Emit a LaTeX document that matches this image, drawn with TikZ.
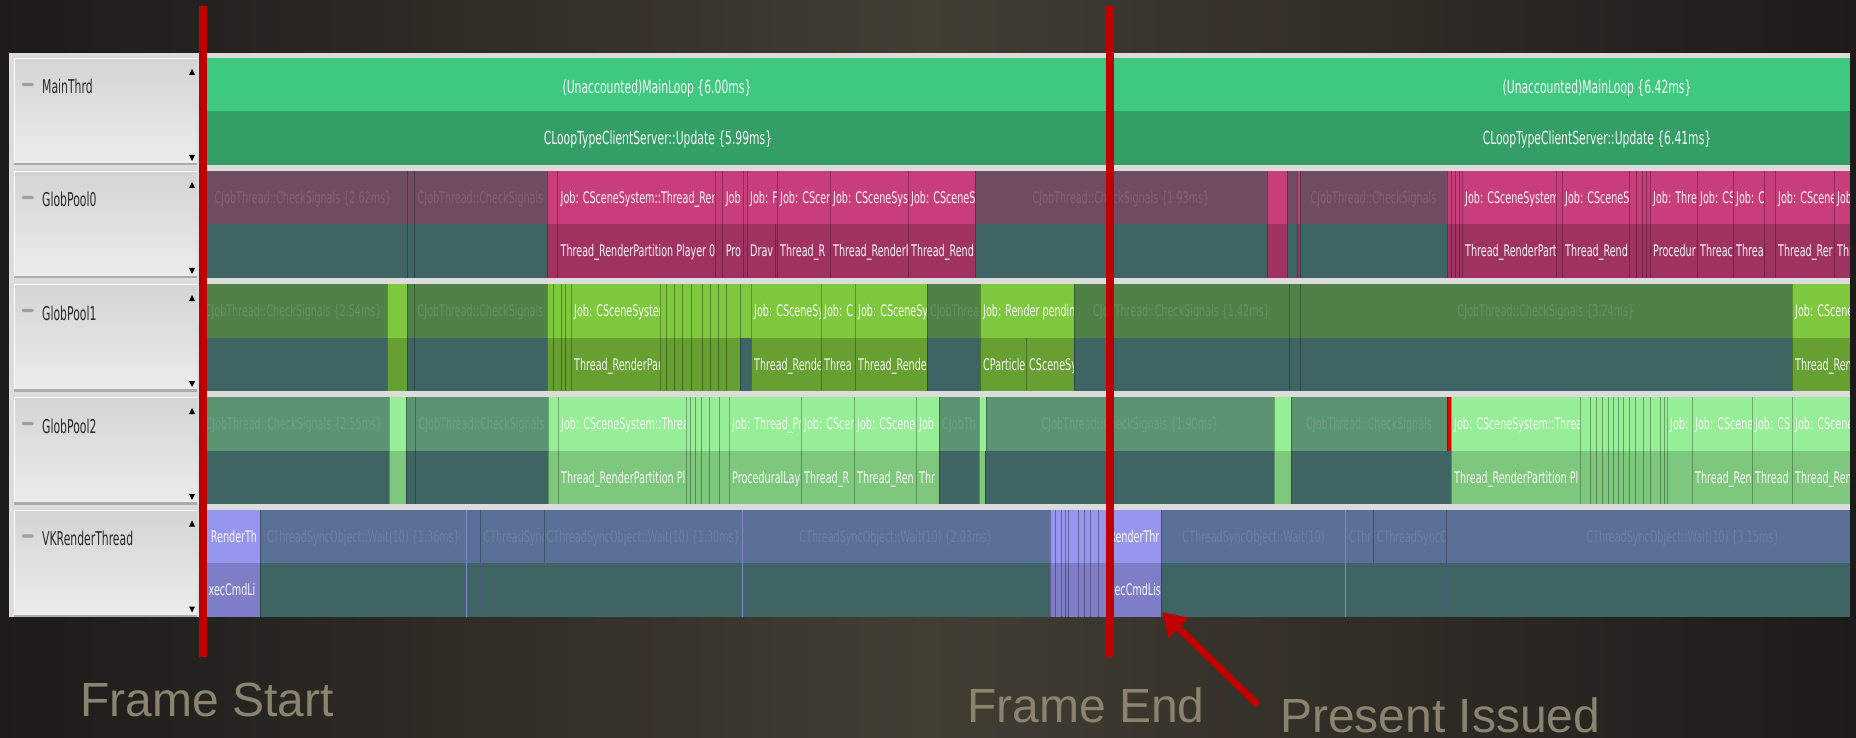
\documentclass[tikz,border=0pt]{standalone}
\usepackage{fontspec}
\usetikzlibrary{arrows.meta}
\newfontfamily\pf{DejaVu Sans}[FakeStretch=0.6]
\newfontfamily\hf{DejaVu Sans}[FakeStretch=0.57]
\newfontfamily\af{Liberation Sans}
\definecolor{bgE}{RGB}{28,27,25}
\definecolor{bgM}{RGB}{67,62,52}
\definecolor{panel}{RGB}{220,220,220}
\definecolor{hdT}{RGB}{212,212,212}
\definecolor{hdB}{RGB}{236,236,236}
\definecolor{hdE}{RGB}{172,172,172}
\definecolor{mainA}{RGB}{63,200,128}
\definecolor{mainB}{RGB}{51,158,102}
\definecolor{tl}{RGB}{62,100,99}
\definecolor{pD}{RGB}{112,76,98}
\definecolor{pA}{RGB}{199,62,122}
\definecolor{pB}{RGB}{160,50,98}
\definecolor{gD}{RGB}{80,130,72}
\definecolor{gA}{RGB}{126,200,62}
\definecolor{gB}{RGB}{102,160,48}
\definecolor{hD}{RGB}{90,148,112}
\definecolor{hA}{RGB}{150,238,150}
\definecolor{hB}{RGB}{126,200,126}
\definecolor{hR}{RGB}{230,0,0}
\definecolor{vD}{RGB}{90,112,150}
\definecolor{vA}{RGB}{150,150,238}
\definecolor{vB}{RGB}{126,126,200}
\definecolor{tw}{RGB}{246,246,246}
\colorlet{tpD}{pD!88!white}
\colorlet{tgD}{gD!88!white}
\colorlet{thD}{hD!89!white}
\colorlet{tvD}{vD!89!white}
\definecolor{redl}{RGB}{192,0,0}
\definecolor{captioncol}{RGB}{139,131,109}
\definecolor{hdtext}{RGB}{40,40,40}
\tikzset{
  lbl/.style={font=\pf\fontsize{16}{18}\selectfont, inner sep=0pt},
  mlbl/.style={font=\pf\fontsize{18}{20}\selectfont, inner sep=0pt, text=tw, anchor=base},
  hlbl/.style={font=\hf\fontsize{19}{21}\selectfont, inner sep=0pt, text=hdtext, anchor=base west},
  captxt/.style={font=\af\fontsize{48}{52}\selectfont, inner sep=0pt, text=captioncol, anchor=base west},
  marker/.style={draw=redl, line width=7.5pt},
  arrowred/.style={draw=redl, line width=7pt, -{Triangle[width=27pt,length=23pt]}},
}
% #1 top y, #2 x1, #3 x2, #4 fill, #5 text colour, #6 mode (c, l or centre x), #7 label
\newcommand\blk[7]{%
  \fill[#4] (#2,#1) rectangle (#3,#1+53.5);
  \draw[#4!72!black, line width=0.8pt] (#2,#1) -- (#2,#1+53.5);
  \def\tmpm{#6}\def\modec{c}\def\model{l}%
  \begin{scope}
    \clip (#2+0.5,#1) rectangle (#3-1,#1+53.5);
    \ifx\tmpm\modec
      \node[lbl,text=#5,anchor=base] at ({(#2+#3)/2},#1+32.5) {#7};
    \else\ifx\tmpm\model
      \node[lbl,text=#5,anchor=base west] at (#2+3,#1+32.5) {#7};
    \else
      \node[lbl,text=#5,anchor=base] at (#6,#1+32.5) {#7};
    \fi\fi
  \end{scope}}
\newcommand\lns[2]{\foreach \xx in {#2}{\draw[black, opacity=0.33, line width=0.9pt] (\xx,#1) -- (\xx,#1+53.5);}}
\begin{document}
\begin{tikzpicture}[x=1pt,y=-1pt]
\useasboundingbox (0,0) rectangle (1856,738);
\shade[left color=bgE, right color=bgE, middle color=bgM] (0,0) rectangle (1856,738);
\fill[panel] (9,53) rectangle (1850,616.5);

% ---- track headers
\foreach \T/\nm [count=\i] in {58/MainThrd,171/GlobPool0,284/GlobPool1,397/GlobPool2,509.5/VKRenderThread}{
  \shade[top color=hdT, bottom color=hdB] (14,\T) rectangle (197,\T+105);
  \fill[hdE] (14,\T+105) rectangle (197,\T+107.5);
  \draw[white, line width=1.2pt] (14.6,\T+105) -- (14.6,\T+0.6) -- (197,\T+0.6);
  \fill[gray!75, rounded corners=1pt] (22,\T+24.8) rectangle (33.5,\T+28.2);
  \node[hlbl] (h\i) at (42,\T+36) {\nm};
  \fill[black] (189,\T+17) -- (195,\T+17) -- (192,\T+11) -- cycle;
  \fill[black] (189,\T+97) -- (195,\T+97) -- (192,\T+103) -- cycle;
}

% ---- MainThrd
\fill[mainA] (199,58) rectangle (1850,111.5);
\fill[mainB] (199,111.5) rectangle (1850,165);
\draw[mainA!72!black, line width=0.8pt] (1109,58) -- (1109,165);
\node[mlbl] (ml1) at (657,93.5) {(Unaccounted)MainLoop \{6.00ms\}};
\node[mlbl] (ml2) at (1597,93.5) {(Unaccounted)MainLoop \{6.42ms\}};
\node[mlbl] (up1) at (658,145) {CLoopTypeClientServer::Update \{5.99ms\}};
\node[mlbl] (up2) at (1597,145) {CLoopTypeClientServer::Update \{6.41ms\}};

% ---- GlobPool0
\blk{171}{199}{407}{pD}{tpD}{c}{CJobThread::CheckSignals \{2.62ms\}}
\blk{171}{407}{414}{pD}{tpD}{c}{}
\blk{171}{414}{547}{pD}{tpD}{c}{CJobThread::CheckSignals}
\blk{171}{547}{557.5}{pA}{tw}{c}{}
\blk{171}{557.5}{715}{pA}{tw}{l}{Job: CSceneSystem::Thread\_Rend}
\blk{171}{715}{722.6}{pA}{tw}{c}{}
\blk{171}{722.6}{743}{pA}{tw}{l}{Job}
\blk{171}{743}{747}{pA}{tw}{c}{}
\blk{171}{747}{777}{pA}{tw}{l}{Job: F}
\blk{171}{777}{830}{pA}{tw}{l}{Job: CScer}
\blk{171}{830}{908}{pA}{tw}{l}{Job: CSceneSyst}
\blk{171}{908}{975}{pA}{tw}{l}{Job: CSceneS}
\blk{171}{975}{1267}{pD}{tpD}{c}{CJobThread::CheckSignals \{1.93ms\}}
\blk{171}{1267}{1287}{pA}{tw}{c}{}
\blk{171}{1287}{1297}{pD}{tpD}{c}{}
\blk{171}{1297}{1300}{pA}{tw}{c}{}
\blk{171}{1300}{1447}{pD}{tpD}{c}{CJobThread::CheckSignals}
\blk{171}{1447}{1462}{pA}{tw}{c}{}
\lns{171}{1451,1455,1459}
\blk{171}{1462}{1556}{pA}{tw}{l}{Job: CSceneSystem}
\blk{171}{1556}{1562}{pA}{tw}{c}{}
\blk{171}{1562}{1629}{pA}{tw}{l}{Job: CSceneS}
\blk{171}{1629}{1650}{pA}{tw}{c}{}
\lns{171}{1636,1642,1646}
\blk{171}{1650}{1697}{pA}{tw}{l}{Job: Thre}
\blk{171}{1697}{1733}{pA}{tw}{l}{Job: CS}
\blk{171}{1733}{1764}{pA}{tw}{l}{Job: C}
\blk{171}{1764}{1775}{pA}{tw}{c}{}
\blk{171}{1775}{1834}{pA}{tw}{l}{Job: CScene}
\blk{171}{1834}{1850}{pA}{tw}{l}{Job}

\blk{224.5}{199}{407}{tl}{tw}{c}{}
\blk{224.5}{407}{414}{tl}{tw}{c}{}
\blk{224.5}{414}{547}{tl}{tw}{c}{}
\blk{224.5}{547}{557.5}{pB}{tw}{c}{}
\blk{224.5}{557.5}{715}{pB}{tw}{l}{Thread\_RenderPartition Player 0}
\blk{224.5}{715}{722.6}{pB}{tw}{c}{}
\blk{224.5}{722.6}{743}{pB}{tw}{l}{Pro}
\blk{224.5}{743}{747}{pB}{tw}{c}{}
\blk{224.5}{747}{775}{pB}{tw}{l}{Drav}
\blk{224.5}{775}{777}{pB}{tw}{c}{}
\blk{224.5}{777}{830}{pB}{tw}{l}{Thread\_R}
\blk{224.5}{830}{908}{pB}{tw}{l}{Thread\_RenderF}
\blk{224.5}{908}{975}{pB}{tw}{l}{Thread\_Rend}
\blk{224.5}{975}{1267}{tl}{tw}{c}{}
\blk{224.5}{1267}{1287}{pB}{tw}{c}{}
\blk{224.5}{1287}{1297}{tl}{tw}{c}{}
\blk{224.5}{1297}{1300}{pB}{tw}{c}{}
\blk{224.5}{1300}{1447}{tl}{tw}{c}{}
\blk{224.5}{1447}{1462}{pB}{tw}{c}{}
\lns{224.5}{1451,1455,1459}
\blk{224.5}{1462}{1556}{pB}{tw}{l}{Thread\_RenderPart}
\blk{224.5}{1556}{1562}{pB}{tw}{c}{}
\blk{224.5}{1562}{1629}{pB}{tw}{l}{Thread\_Rend}
\blk{224.5}{1629}{1650}{pB}{tw}{c}{}
\lns{224.5}{1636,1642,1646}
\blk{224.5}{1650}{1697}{pB}{tw}{l}{Procedur}
\blk{224.5}{1697}{1733}{pB}{tw}{l}{Threac}
\blk{224.5}{1733}{1764}{pB}{tw}{l}{Threa}
\blk{224.5}{1764}{1775}{pB}{tw}{c}{}
\blk{224.5}{1775}{1834}{pB}{tw}{l}{Thread\_Rer}
\blk{224.5}{1834}{1850}{pB}{tw}{l}{Thr}

% ---- GlobPool1
\blk{284}{199}{387.5}{gD}{tgD}{c}{CJobThread::CheckSignals \{2.54ms\}}
\blk{284}{387.5}{407}{gA}{tw}{c}{}
\blk{284}{407}{414}{gD}{tgD}{c}{}
\blk{284}{414}{547}{gD}{tgD}{c}{CJobThread::CheckSignals}
\blk{284}{547}{571}{gA}{tw}{c}{}
\lns{284}{553,561,565}
\blk{284}{571}{660}{gA}{tw}{l}{Job: CSceneSysten}
\blk{284}{660}{751}{gA}{tw}{c}{}
\lns{284}{666,674,682,691,702,710,718,726,740}
\blk{284}{751}{821}{gA}{tw}{l}{Job: CSceneSy}
\blk{284}{821}{855}{gA}{tw}{l}{Job: C}
\blk{284}{855}{927}{gA}{tw}{l}{Job: CSceneSy}
\blk{284}{927}{980}{gD}{tgD}{l}{CJobThrea}
\blk{284}{980}{1074}{gA}{tw}{l}{Job: Render pending}
\blk{284}{1074}{1289}{gD}{tgD}{c}{CJobThread::CheckSignals \{1.42ms\}}
\blk{284}{1289}{1300}{gD}{tgD}{c}{}
\blk{284}{1300}{1792}{gD}{tgD}{c}{CJobThread::CheckSignals \{3.24ms\}}
\blk{284}{1792}{1850}{gA}{tw}{l}{Job: CSceneS}

\blk{337.5}{199}{387.5}{tl}{tw}{c}{}
\blk{337.5}{387.5}{407}{gB}{tw}{c}{}
\blk{337.5}{407}{414}{tl}{tw}{c}{}
\blk{337.5}{414}{547}{tl}{tw}{c}{}
\blk{337.5}{547}{571}{gB}{tw}{c}{}
\lns{337.5}{553,561,565}
\blk{337.5}{571}{660}{gB}{tw}{l}{Thread\_RenderPar}
\blk{337.5}{660}{740}{gB}{tw}{c}{}
\lns{337.5}{666,674,682,691,702,710,718,726}
\blk{337.5}{740}{751}{tl}{tw}{c}{}
\blk{337.5}{751}{821}{gB}{tw}{l}{Thread\_Rende}
\blk{337.5}{821}{855}{gB}{tw}{l}{Threa}
\blk{337.5}{855}{927}{gB}{tw}{l}{Thread\_Rende}
\blk{337.5}{927}{980}{tl}{tw}{c}{}
\blk{337.5}{980}{1026}{gB}{tw}{l}{CParticle}
\blk{337.5}{1026}{1074}{gB}{tw}{l}{CSceneSy}
\blk{337.5}{1074}{1289}{tl}{tw}{c}{}
\blk{337.5}{1289}{1300}{tl}{tw}{c}{}
\blk{337.5}{1300}{1792}{tl}{tw}{c}{}
\blk{337.5}{1792}{1850}{gB}{tw}{l}{Thread\_Rend}

% ---- GlobPool2
\blk{397}{199}{389}{hD}{thD}{c}{CJobThread::CheckSignals \{2.55ms\}}
\blk{397}{389}{406}{hA}{tw}{c}{}
\blk{397}{406}{415}{hD}{thD}{c}{}
\blk{397}{415}{548}{hD}{thD}{c}{CJobThread::CheckSignals}
\blk{397}{548}{558}{hA}{tw}{c}{}
\blk{397}{558}{686}{hA}{tw}{l}{Job: CSceneSystem::Threac}
\blk{397}{686}{729}{hA}{tw}{c}{}
\lns{397}{690,695,701,709,719}
\blk{397}{729}{801}{hA}{tw}{l}{Job: Thread\_Pr}
\blk{397}{801}{854}{hA}{tw}{l}{Job: CScer}
\blk{397}{854}{916}{hA}{tw}{l}{Job: CScene}
\blk{397}{916}{939}{hA}{tw}{l}{Job}
\blk{397}{939}{979}{hD}{thD}{l}{CJobTh}
\blk{397}{979}{986}{hA}{tw}{c}{}
\blk{397}{986}{1274}{hD}{thD}{c}{CJobThread::CheckSignals \{1.90ms\}}
\blk{397}{1274}{1291}{hA}{tw}{c}{}
\blk{397}{1291}{1447}{hD}{thD}{c}{CJobThread::CheckSignals}
\blk{397}{1447}{1451}{hR}{tw}{c}{}
\blk{397}{1451}{1580}{hA}{tw}{l}{Job: CSceneSystem::Threa}
\blk{397}{1580}{1667}{hA}{tw}{c}{}
\lns{397}{1590,1596,1602,1608,1613,1618,1623,1629,1635,1643,1650,1660,1664}
\blk{397}{1667}{1692}{hA}{tw}{l}{Job:}
\blk{397}{1692}{1752}{hA}{tw}{l}{Job: CScene}
\blk{397}{1752}{1792}{hA}{tw}{l}{Job: CS}
\blk{397}{1792}{1850}{hA}{tw}{l}{Job: CScene}

\blk{450.5}{199}{389}{tl}{tw}{c}{}
\blk{450.5}{389}{406}{hB}{tw}{c}{}
\blk{450.5}{406}{415}{tl}{tw}{c}{}
\blk{450.5}{415}{548}{tl}{tw}{c}{}
\blk{450.5}{548}{558}{hB}{tw}{c}{}
\blk{450.5}{558}{686}{hB}{tw}{l}{Thread\_RenderPartition Pla}
\blk{450.5}{686}{729}{hB}{tw}{c}{}
\lns{450.5}{690,695,701,709,719}
\blk{450.5}{729}{801}{hB}{tw}{l}{ProceduralLay}
\blk{450.5}{801}{854}{hB}{tw}{l}{Thread\_R}
\blk{450.5}{854}{916}{hB}{tw}{l}{Thread\_Ren}
\blk{450.5}{916}{939}{hB}{tw}{l}{Thr}
\blk{450.5}{939}{979}{tl}{tw}{c}{}
\blk{450.5}{979}{985}{hB}{tw}{c}{}
\blk{450.5}{985}{1274}{tl}{tw}{c}{}
\blk{450.5}{1274}{1291}{hB}{tw}{c}{}
\blk{450.5}{1291}{1451}{tl}{tw}{c}{}
\blk{450.5}{1451}{1580}{hB}{tw}{l}{Thread\_RenderPartition Pl}
\blk{450.5}{1580}{1667}{hB}{tw}{c}{}
\lns{450.5}{1590,1596,1602,1608,1613,1618,1623,1629,1635,1643,1650,1660,1664}
\blk{450.5}{1667}{1692}{hB}{tw}{c}{}
\blk{450.5}{1692}{1752}{hB}{tw}{l}{Thread\_Ren}
\blk{450.5}{1752}{1792}{hB}{tw}{l}{Thread}
\blk{450.5}{1792}{1850}{hB}{tw}{l}{Thread\_Ren}

% ---- VKRenderThread
\blk{509.5}{199}{260}{vA}{tw}{234}{RenderTh}
\blk{509.5}{260}{466.6}{vD}{tvD}{c}{CThreadSyncObject::Wait(10) \{1.36ms\}}
\blk{509.5}{466.6}{480.4}{vD}{tvD}{c}{}
\blk{509.5}{480.4}{544.5}{vD}{tvD}{l}{CThreadSync}
\blk{509.5}{544.5}{742}{vD}{tvD}{c}{CThreadSyncObject::Wait(10) \{1.30ms\}}
\blk{509.5}{742}{1050}{vD}{tvD}{c}{CThreadSyncObject::Wait(10) \{2.03ms\}}
\blk{509.5}{1050}{1106}{vA}{tw}{c}{}
\lns{509.5}{1055,1061,1065,1068,1078,1084,1090,1098}
\blk{509.5}{1106}{1161.5}{vA}{tw}{1131}{CRenderThr}
\blk{509.5}{1161.5}{1345.6}{vD}{tvD}{c}{CThreadSyncObject::Wait(10)}
\blk{509.5}{1345.6}{1373.6}{vD}{tvD}{l}{CThr}
\blk{509.5}{1373.6}{1446}{vD}{tvD}{l}{CThreadSyncO}
\blk{509.5}{1446}{1850}{vD}{tvD}{1683}{CThreadSyncObject::Wait(10) \{3.15ms\}}

\blk{563}{199}{260}{vB}{tw}{232}{xecCmdLi}
\blk{563}{260}{1050}{tl}{tw}{c}{}
\blk{563}{1050}{1106}{vB}{tw}{c}{}
\lns{563}{1055,1061,1065,1068,1078,1084,1090,1098}
\blk{563}{1106}{1161.5}{vB}{tw}{1132}{ExecCmdLis}
\blk{563}{1161.5}{1850}{tl}{tw}{c}{}
\foreach \xx in {466.6,742,1345.6}{\draw[vA!75!tl, line width=1pt] (\xx,509.5) -- (\xx,616.5);}
\foreach \xx in {480.4,1373.6,1446}{\draw[vD!80!black, line width=0.8pt] (\xx,563) -- (\xx,616.5);}

% ---- frame markers
\coordinate (fsTop) at (203,6);
\coordinate (fsBot) at (203,657);
\coordinate (feTop) at (1110,6);
\coordinate (feBot) at (1110,657);
\draw[marker] (fsTop) -- (fsBot);
\draw[marker] (feTop) -- (feBot);

% ---- captions
\node[captxt] (fs) at (80,716) {Frame Start};
\node[captxt] (fe) at (967,722.5) {Frame End};
\node[captxt] (pi) at (1280,732) {Present Issued};
\coordinate (piTail) at (1258,705);
\coordinate (piTip) at (1162,612);
\draw[arrowred] (piTail) -- (piTip);
\end{tikzpicture}
\end{document}
